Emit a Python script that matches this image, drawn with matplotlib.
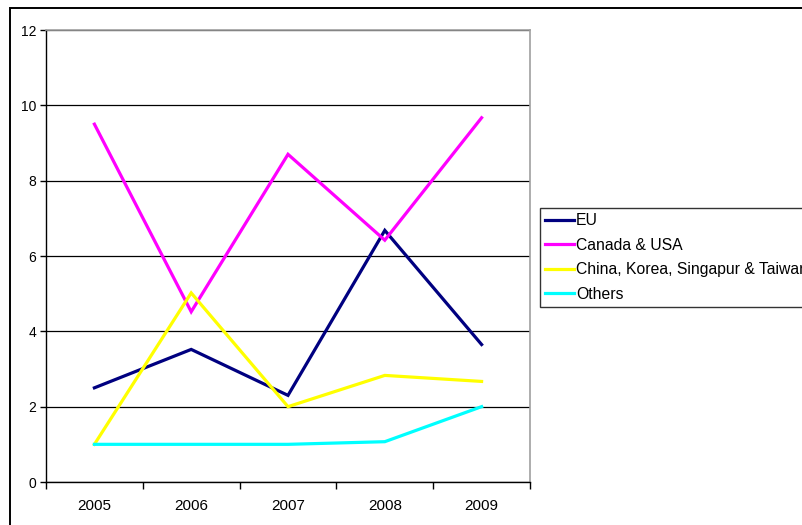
import matplotlib
matplotlib.use("Agg")
import matplotlib.pyplot as plt
from matplotlib.patches import Rectangle

plt.rcParams["font.family"] = ["Liberation Sans", "DejaVu Sans"]

years = ["2005", "2006", "2007", "2008", "2009"]
eu = [2.5, 3.52, 2.3, 6.68, 3.65]
canada_usa = [9.5, 4.52, 8.7, 6.42, 9.67]
asia = [1.0, 5.02, 2.0, 2.83, 2.67]
others = [1.0, 1.0, 1.0, 1.07, 2.0]

series = [
    ("EU", eu, "#000080"),
    ("Canada & USA", canada_usa, "#ff00ff"),
    ("China, Korea, Singapur & Taiwan", asia, "#ffff00"),
    ("Others", others, "#00ffff"),
]

W, H = 803, 525
fig = plt.figure(figsize=(W / 100, H / 100), dpi=100)

# outer chart frame, running off the right and bottom edges
fig.patches.append(Rectangle((10 / W, -0.1), 1.2, 1.1 - 8 / H, transform=fig.transFigure,
                             fill=False, edgecolor="black", linewidth=1.4))

ax = fig.add_axes([46 / W, 1 - 482 / H, (530 - 46) / W, (482 - 30) / H])
x = range(len(years))
for label, vals, color in series:
    ax.plot(x, vals, color=color, linewidth=2.3, label=label, solid_joinstyle="miter")

ax.set_xlim(-0.5, len(years) - 0.5)
ax.set_ylim(0, 12)
ax.set_yticks(range(0, 13, 2))
ax.set_xticks(x)
ax.set_xticklabels(years, fontsize=11)
ax.set_xticks([i - 0.5 for i in range(len(years) + 1)], minor=True)
ax.tick_params(axis="x", which="major", length=0, pad=12)
ax.tick_params(axis="x", which="minor", length=5, width=1, direction="out")
ax.tick_params(axis="y", labelsize=10, length=4, width=1, direction="out", pad=3)
ax.yaxis.grid(True, color="black", linewidth=0.9)
ax.set_axisbelow(True)

for side in ("top", "right"):
    ax.spines[side].set_color("#a0a0a0")
    ax.spines[side].set_linewidth(1.2)
for side in ("left", "bottom"):
    ax.spines[side].set_color("black")
    ax.spines[side].set_linewidth(1.0)

leg = fig.legend(loc="upper left", bbox_to_anchor=(540 / W, 1 - 208 / H),
                 fontsize=11.3, frameon=True, fancybox=False, handlelength=1.8,
                 handletextpad=0.15, borderpad=0.35, labelspacing=0.6,
                 borderaxespad=0)
leg.get_frame().set_edgecolor("black")
leg.get_frame().set_linewidth(1.0)

fig.savefig("out.png", dpi=100)
